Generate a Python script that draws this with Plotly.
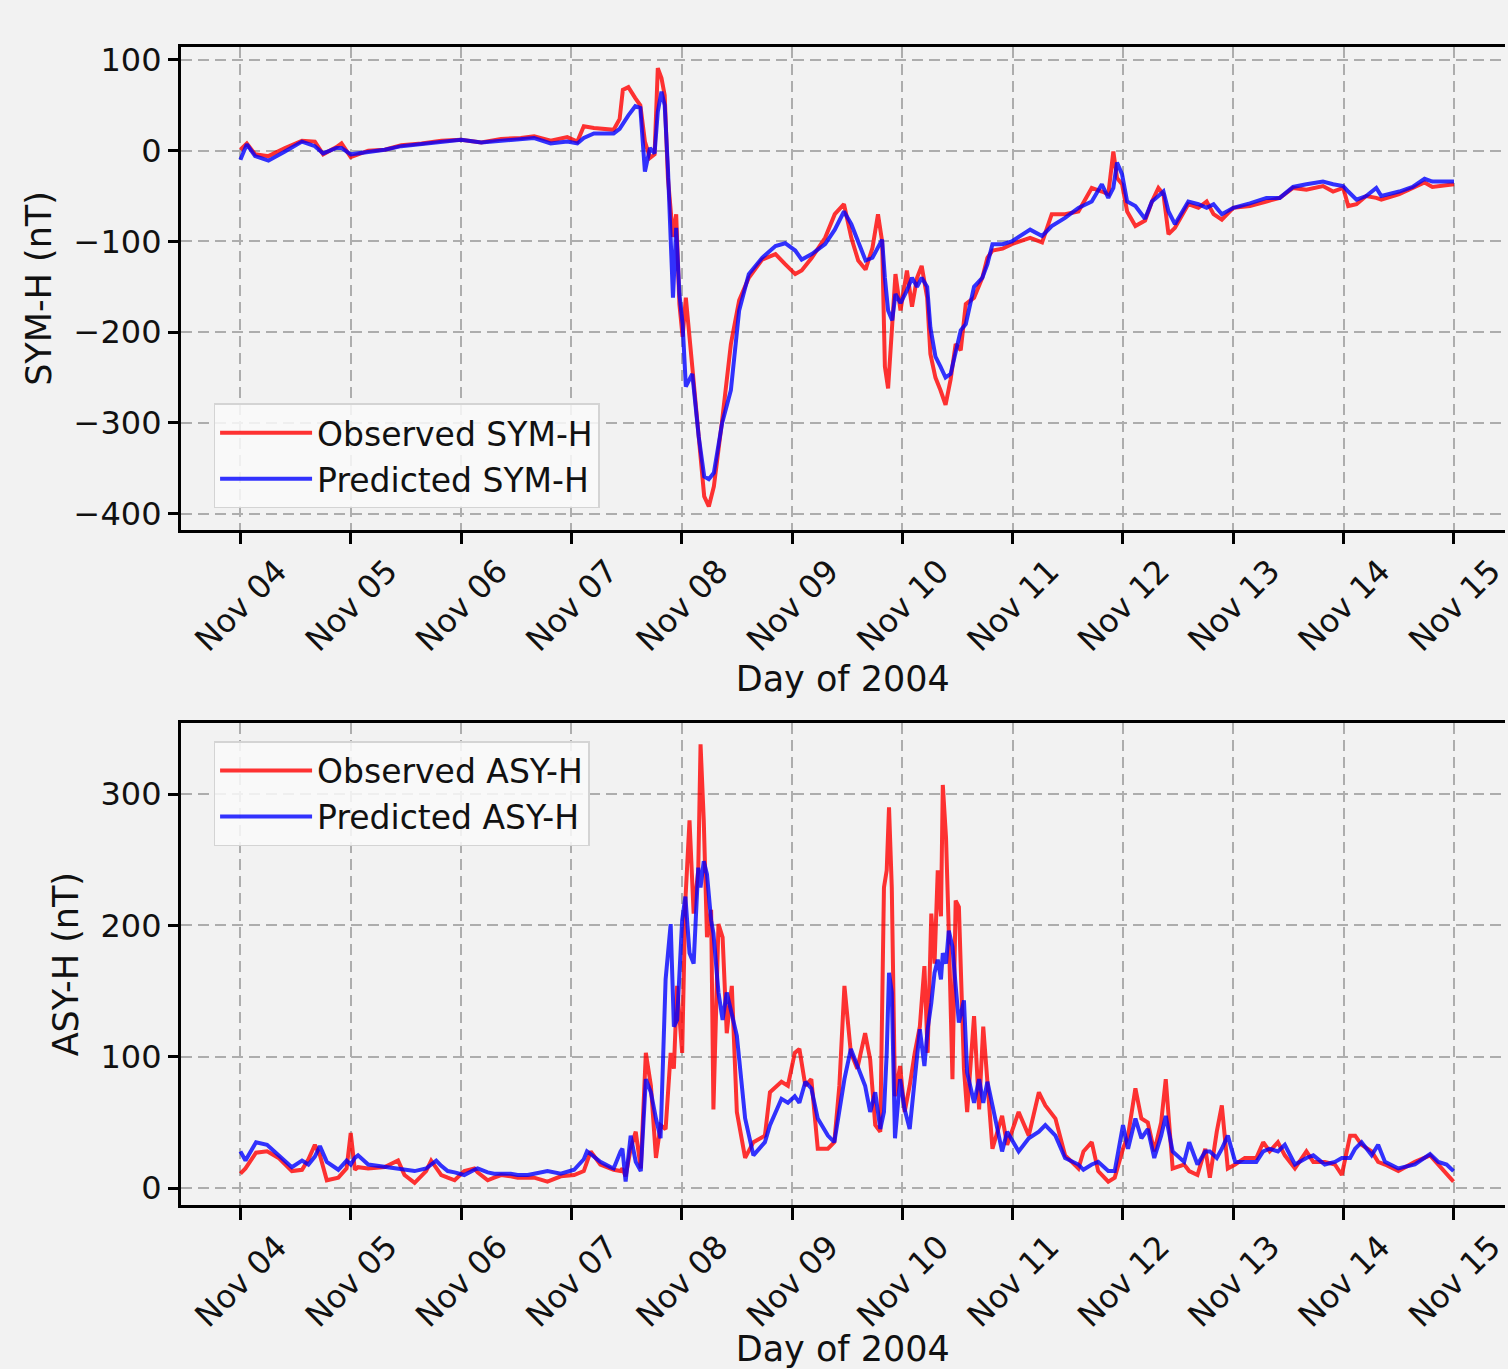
import pandas as pd
import plotly.graph_objects as go

# ---------------- data (hours since 2004-11-04 00:00 UT) ----------------
sym_hours = [0, 1.4, 3.2, 6.1, 9.7, 13.4, 16.2, 18, 20.9, 22, 24, 27.8, 31.4, 35, 39.4, 43.7, 48, 52.4,
             56.7, 61, 63.9, 67.5, 71.1, 73.3, 74.7, 76.9, 81.2, 82.5, 83.2, 84.4, 85.9, 87, 88, 89.1, 90.1,
             90.8, 91.6, 92.3, 93, 93.7, 94.1, 94.8, 95.5, 96.2, 96.9, 98.3, 99.7, 100.9, 101.9, 103, 104.8,
             106.7, 108.5, 110.6, 113.5, 116.4, 118.5, 120.7, 122.1, 124.3, 127.2, 129.3, 131.3, 132.9, 134.4,
             136, 137.5, 138.7, 139.6, 140.2, 140.9, 141.8, 142.5, 143.6, 145, 146.1, 147.2, 148.2, 149.4,
             150.1, 151.2, 152.3, 153.4, 154.5, 155.6, 156.7, 157.8, 159.6, 161.4, 162.5, 163.6, 165.8, 167.8,
             171.8, 174.4, 176.5, 179.4, 182.3, 185.2, 187.4, 188.8, 189.9, 190.7, 191.8, 192.9, 194.7, 196.8,
             198.3, 199.7, 200.8, 201.9, 203.3, 206.2, 208.4, 210.2, 211.7, 213.5, 216, 219.6, 223.2, 226.1,
             229, 231.9, 235.5, 237.7, 239.9, 241, 242.8, 244.9, 247.1, 248.2, 252.1, 255, 257.6, 259.3,
             261.5, 264]
sym_observed = [1, 8, -4, -6, 3, 11, 10, -4, 4, 8, -7, 0, 1, 6, 8, 11, 12, 9,
                13, 14, 16, 11, 15, 10, 27, 25, 23, 35, 67, 70, 58, 50, 10, -8, -4,
                91, 80, 61, -30, -81, -95, -70, -169, -205, -162, -238, -322, -381, -392, -370, -297,
                -213, -165, -140, -120, -114, -125, -136, -132, -118, -96, -70, -59, -96, -121,
                -131, -107, -70, -100, -238, -262, -183, -136, -176, -132, -172, -140, -127, -162,
                -224, -250, -264, -280, -252, -213, -220, -169, -162, -140, -118, -110, -108, -103,
                -96, -101, -70, -70, -67, -41, -45, -48, -1, -30, -37, -67, -83, -77,
                -56, -41, -48, -92, -85, -59, -63, -56, -70, -76, -63, -61, -56, -52,
                -41, -43, -39, -45, -41, -61, -59, -50, -52, -54, -48, -41, -35, -40,
                -39, -37]
sym_predicted = [-10, 7, -6, -11, -1, 10, 5, -3, 3, 3, -4, -1, 1, 5, 7, 10, 12, 9,
                 11, 13, 14, 8, 10, 8, 14, 19, 19, 24, 30, 39, 49, 47, -23, 3, -3,
                 43, 65, 50, -19, -103, -162, -85, -158, -191, -260, -246, -315, -359, -362, -355, -300,
                 -264, -176, -136, -118, -105, -102, -110, -120, -114, -103, -87, -67, -81, -100,
                 -121, -118, -107, -98, -140, -176, -187, -158, -168, -154, -140, -150, -140, -150,
                 -195, -227, -238, -250, -246, -224, -198, -191, -150, -140, -125, -103, -103, -100,
                 -87, -94, -83, -74, -63, -56, -37, -52, -41, -13, -26, -56, -61, -75,
                 -56, -50, -45, -67, -81, -56, -59, -63, -59, -70, -63, -58, -52, -52,
                 -40, -37, -34, -37, -39, -45, -54, -50, -41, -50, -45, -40, -31, -34,
                 -34, -34]

asy_hours = [0, 1.1, 3.4, 5.8, 8.3, 11.2, 13.4, 14.8, 16.2, 17.3, 18.8, 21.3, 23.1, 24, 24.9, 25.6, 27.8,
             31.4, 34.3, 35.7, 37.9, 40.4, 41.5, 42.6, 43.7, 45.1, 46.6, 48.7, 50.9, 51.6, 53.8, 55.2, 56.7,
             58.8, 60.3, 62.5, 63.9, 66.8, 69.7, 72.6, 74.7, 75.4, 76.2, 78.3, 80.5, 81.2, 82.7, 83.1, 83.8,
             84.9, 86, 87.1, 88.2, 89.3, 90.4, 91.4, 92.5, 93.6, 94.3, 95, 96.1, 96.8, 97.7, 98.6,
             99.6, 100.1, 100.8, 101.5, 102.4, 102.9, 104, 104.9, 105.8, 106.9, 108, 109.8, 111.6, 114.1,
             115.2, 117.7, 119.1, 120.6, 121.6, 122.9, 124.2, 125.6, 127.8, 129.2, 130.3, 131.4, 132.8,
             134.2, 135.9, 137, 138.1, 139.2, 140, 140.6, 141.1, 141.7, 142.4, 143.5, 144.5, 145.6, 146.7,
             147.8, 148.8, 149.5, 150.3, 151, 151.7, 152.4, 152.8, 153.5, 154.1, 154.9, 155.6, 156.3, 157.4,
             158.1, 159.6, 160.7, 161.6, 162.5, 163.6, 165.7, 166.8, 169.3, 171.5, 173.7, 175.1, 177.3,
             179.4, 182.3, 183.4, 185.2, 186.6, 188.8, 190.2, 192, 193.1, 194.7, 196, 197.4, 198.8, 200.3,
             201.3, 202.8, 205.3, 206.4, 208.2, 209.9, 210.9, 212.4, 213.5, 214.8, 216.4, 218.5, 221, 222.5,
             223.9, 225.7, 227.2, 229.4, 231.9, 233.4, 235.9, 238.1, 239.6, 241.4, 242.5, 243.9, 246.1,
             247.5, 249, 251.9, 255.5, 258.8, 260.6, 262.4, 263.9]
asy_observed = [11, 15, 27, 28, 23, 13, 14, 22, 33, 25, 6, 8, 15, 42, 14, 16, 15,
                16, 21, 10, 4, 13, 21, 16, 10, 8, 6, 13, 15, 12, 6, 8, 10,
                9, 8, 8, 8, 5, 9, 10, 13, 20, 28, 18, 15, 14, 13, 15, 9,
                30, 43, 15, 103, 78, 23, 48, 45, 103, 91, 154, 103, 219, 280, 209,
                242, 338, 280, 191, 212, 60, 201, 191, 118, 154, 58, 23, 35, 40,
                73, 81, 78, 103, 106, 78, 83, 30, 30, 35, 78, 154, 103,
                91, 118, 98, 48, 43, 229, 242, 290, 229, 70, 93, 58, 78, 103,
                123, 169, 103, 209, 171, 242, 207, 307, 267, 196, 83, 219, 214, 91,
                58, 131, 60, 123, 83, 30, 55, 33, 58, 40, 73, 63, 53,
                25, 15, 28, 35, 13, 5, 8, 30, 40, 76, 53, 50, 28, 50,
                83, 15, 18, 13, 10, 30, 8, 43, 63, 15, 18, 23, 23, 35,
                28, 35, 25, 15, 28, 20, 20, 18, 10, 40, 40, 33, 28,
                20, 18, 13, 20, 25, 18, 10, 5]
asy_predicted = [28, 21, 35, 33, 25, 16, 21, 18, 24, 32, 20, 14, 21, 18, 23, 25, 18,
                 16, 15, 14, 13, 15, 18, 21, 17, 13, 12, 10, 14, 15, 12, 11, 11,
                 11, 10, 10, 11, 13, 11, 14, 22, 28, 26, 20, 16, 15, 28, 30, 5,
                 40, 20, 13, 83, 73, 53, 38, 159, 201, 123, 128, 204, 222, 179, 171,
                 244, 229, 249, 239, 204, 194, 149, 128, 149, 133, 116, 53, 25, 35,
                 48, 68, 65, 70, 65, 81, 76, 53, 40, 35, 60, 83, 106,
                 93, 78, 58, 73, 45, 58, 103, 164, 149, 38, 83, 60, 45, 86,
                 121, 93, 121, 141, 164, 174, 159, 179, 171, 196, 184, 154, 126, 143,
                 88, 65, 83, 65, 81, 63, 28, 43, 28, 38, 43, 48, 40,
                 23, 18, 14, 18, 20, 13, 13, 48, 30, 53, 38, 45, 23, 40,
                 55, 28, 20, 35, 18, 28, 28, 23, 30, 40, 20, 20, 20, 28,
                 30, 28, 33, 18, 23, 25, 18, 20, 23, 23, 30, 35, 25,
                 33, 20, 15, 18, 26, 20, 18, 13]

day_labels = ["Nov 04", "Nov 05", "Nov 06", "Nov 07", "Nov 08", "Nov 09",
              "Nov 10", "Nov 11", "Nov 12", "Nov 13", "Nov 14", "Nov 15"]
sym_ticks = [-400, -300, -200, -100, 0, 100]
asy_ticks = [0, 100, 200, 300]

# ---------------- build figure ----------------
base = pd.Timestamp("2004-11-04 00:00")
def to_time(hours):
    return base + pd.to_timedelta(hours, unit="h")

sym_x = to_time(sym_hours)
asy_x = to_time(asy_hours)
tick_dates = [base + pd.Timedelta(days=i) for i in range(len(day_labels))]
x_range = [base + pd.Timedelta(hours=-13.0), base + pd.Timedelta(hours=275.1)]

RED = "rgba(255,0,0,0.8)"
BLUE = "rgba(0,0,255,0.8)"
FONT = "DejaVu Sans"
W, H = 1508, 1369

fig = go.Figure()
fig.add_trace(go.Scatter(x=sym_x, y=sym_observed, mode="lines", name="Observed SYM-H",
                         line=dict(color=RED, width=4), xaxis="x", yaxis="y", legend="legend"))
fig.add_trace(go.Scatter(x=sym_x, y=sym_predicted, mode="lines", name="Predicted SYM-H",
                         line=dict(color=BLUE, width=4), xaxis="x", yaxis="y", legend="legend"))
fig.add_trace(go.Scatter(x=asy_x, y=asy_observed, mode="lines", name="Observed ASY-H",
                         line=dict(color=RED, width=4), xaxis="x2", yaxis="y2", legend="legend2"))
fig.add_trace(go.Scatter(x=asy_x, y=asy_predicted, mode="lines", name="Predicted ASY-H",
                         line=dict(color=BLUE, width=4), xaxis="x2", yaxis="y2", legend="legend2"))

xdom = [181 / W, 1.0]
top_dom = [1 - 527 / H, 1 - 41.7 / H]
bot_dom = [1 - 1207.3 / H, 1 - 721.7 / H]

GRID = dict(showgrid=True, gridcolor="#adadad", griddash="11px,6px", gridwidth=2)

def xaxis_style(anchor):
    return dict(
        type="date", range=x_range, domain=xdom, anchor=anchor,
        tickvals=tick_dates, ticktext=day_labels, tickangle=-45,
        ticks="outside", ticklen=12, tickwidth=2.5, tickcolor="black",
        ticklabelshift=37, ticklabelstandoff=-5, ticklabeloverflow="allow",
        showline=True, linecolor="black", linewidth=2.5, mirror=True,
        zeroline=False, tickfont=dict(size=32, color="#111111", family=FONT),
        title=dict(text="Day of 2004", font=dict(size=35, color="#111111", family=FONT), standoff=4),
        **GRID,
    )

def yaxis_style(anchor, dom, rng, ticks, title):
    return dict(
        domain=dom, anchor=anchor, range=rng, tickvals=ticks,
        ticks="outside", ticklen=10, tickwidth=2.5, tickcolor="black",
        showline=True, linecolor="black", linewidth=2.5, mirror=False,
        zeroline=False, tickfont=dict(size=32, color="#111111", family=FONT),
        title=dict(text=title, font=dict(size=35, color="#111111", family=FONT), standoff=12),
        **GRID,
    )

legend_common = dict(
    xanchor="left", yanchor="top", bgcolor="rgba(250,250,250,0.85)",
    bordercolor="#d4d4d4", borderwidth=1.5, itemwidth=92,
    font=dict(size=33, color="#111111", family=FONT), tracegroupgap=0,
)

fig.update_layout(
    width=W, height=H,
    margin=dict(l=0, r=0, t=0, b=0),
    paper_bgcolor="#f2f2f2", plot_bgcolor="#f2f2f2",
    font=dict(family=FONT, color="#111111"),
    xaxis=xaxis_style("y"),
    yaxis=yaxis_style("x", top_dom, [-417.5, 113.8], sym_ticks, "SYM-H (nT)"),
    xaxis2=xaxis_style("y2"),
    yaxis2=yaxis_style("x2", bot_dom, [-13.1, 354.2], asy_ticks, "ASY-H (nT)"),
    legend=dict(x=214 / W, y=1 - 400 / H, **legend_common),
    legend2=dict(x=214 / W, y=1 - 740 / H, **legend_common),
    showlegend=True,
)

fig.write_html(
    "out.html",
    config={"displayModeBar": False},
    post_script="document.body.style.margin='0';document.body.style.background='#f2f2f2';",
)
